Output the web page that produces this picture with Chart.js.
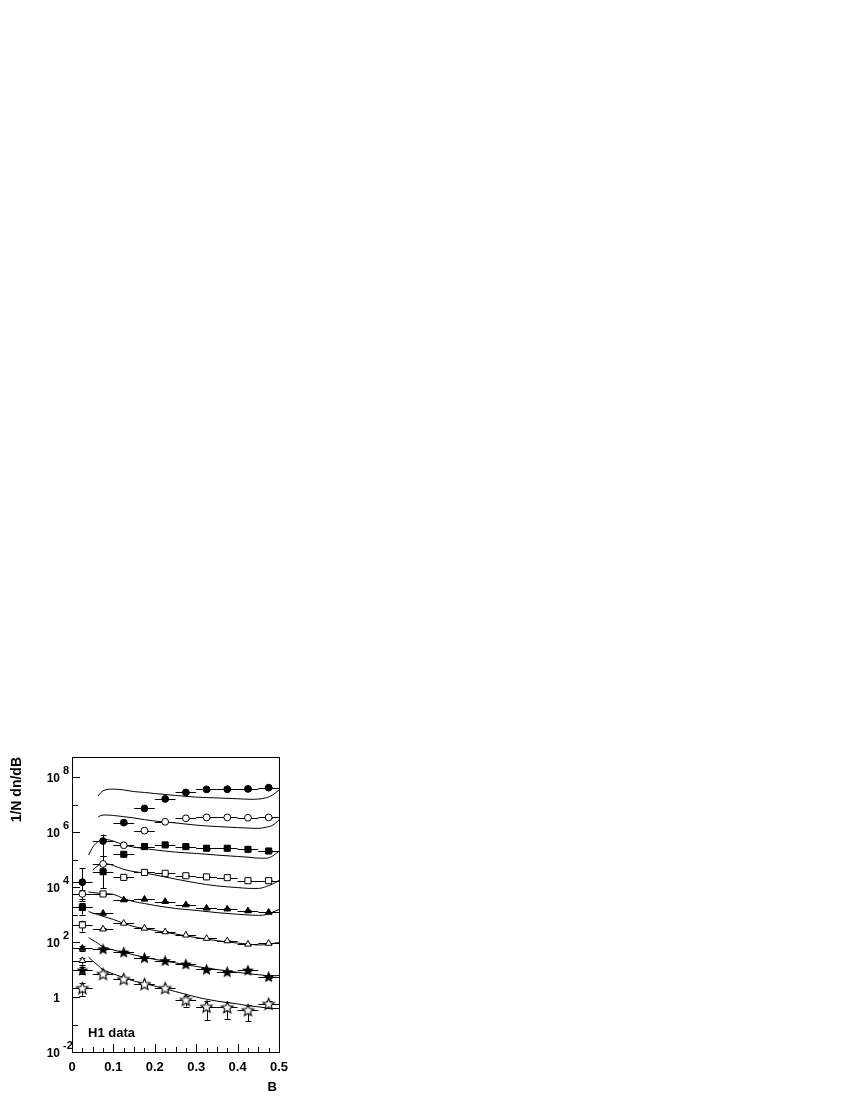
<!DOCTYPE html>
<html>
<head>
<meta charset="utf-8">
<title>H1 data - 1/N dn/dB</title>
<script src="https://cdn.jsdelivr.net/npm/chart.js@4.4.1/dist/chart.umd.min.js"></script>
<style>
  html, body { margin: 0; padding: 0; background: #fff; }
  #chart { display: block; }
</style>
</head>
<body>
<canvas id="chart" width="850" height="1100"></canvas>
<script>
// bin centres (B) of the measured points, bins are 0.05 wide
const binCentres = [0.025, 0.075, 0.125, 0.175, 0.225, 0.275, 0.325, 0.375, 0.425, 0.475];
const binHalfWidth = 0.025;

// 1/N dn/dB, one array per sample (top to bottom), with their errors
const filledCircles = [1.5e4, 4.7e5, 2.2e6, 7.2e6, 1.6e7, 2.75e7, 3.55e7, 3.6e7, 3.7e7, 4.1e7];
const filledCirclesErr = [3.3e4, 3.4e5, 2e5, 5e5, 1e6, 1.5e6, 1.8e6, 1.8e6, 1.9e6, 2.0e6];
const openCircles = [5.6e3, 6.9e4, 3.3e5, 1.12e6, 2.35e6, 3.15e6, 3.4e6, 3.4e6, 3.3e6, 3.4e6];
const openCirclesErr = [2.5e3, 6e4, 2e4, 6e4, 1.2e5, 1.6e5, 1.7e5, 1.7e5, 1.7e5, 1.7e5];
const filledSquares = [1.8e3, 3.6e4, 1.55e5, 2.95e5, 3.4e5, 2.95e5, 2.57e5, 2.57e5, 2.34e5, 2.04e5];
const filledSquaresErr = [8e2, 5e3, 1e4, 1.5e4, 1.7e4, 1.5e4, 1.3e4, 1.3e4, 1.2e4, 1.0e4];
const openSquares = [420, 5.6e3, 2.24e4, 3.4e4, 3.15e4, 2.57e4, 2.34e4, 2.19e4, 1.7e4, 1.7e4];
const openSquaresErr = [180, 6e2, 1.2e3, 1.7e3, 1.6e3, 1.3e3, 1.2e3, 1.1e3, 9e2, 9e2];
const filledTriangles = [59, 1.1e3, 3.4e3, 3.6e3, 2.95e3, 2.24e3, 1.7e3, 1.58e3, 1.35e3, 1.2e3];
const filledTrianglesErr = [10, 60, 170, 180, 150, 110, 90, 80, 70, 60];
const openTriangles = [21, 295, 480, 316, 234, 178, 135, 110, 83, 89];
const openTrianglesErr = [6, 15, 25, 16, 12, 9, 7, 6, 5, 5];
const filledStars = [9.5, 56, 43, 27, 21, 15.8, 10.2, 8.3, 9.5, 5.5];
const filledStarsErr = [2.5, 3, 2.5, 1.5, 1.2, 1, 0.6, 0.5, 0.6, 0.4];
const openStars = [2.1, 6.9, 4.5, 2.95, 2.1, 0.78, 0.44, 0.42, 0.33, 0.56];
const openStarsErr = [1.0, 0.6, 0.4, 0.3, 0.25, 0.33, 0.3, 0.26, 0.2, 0.16];

// model curves, sampled on a common B grid (null = not drawn)
const curveB = [0.04, 0.05, 0.063, 0.07, 0.08, 0.1, 0.125, 0.15, 0.175, 0.2, 0.25, 0.3, 0.35, 0.4, 0.43, 0.45, 0.47, 0.485, 0.5];
const curve1 = [null, null, 2.04e7, 2.75e7, 3.39e7, 3.63e7, 3.39e7, 2.95e7, 2.75e7, 2.51e7, 2.14e7, 1.86e7, 1.74e7, 1.62e7, 1.55e7, 1.58e7, 1.78e7, 2.24e7, 3.39e7];
const curve2 = [null, null, 3.5e6, 4.0e6, 4.17e6, 4.0e6, 3.63e6, 3.24e6, 2.82e6, 2.51e6, 2.14e6, 1.78e6, 1.58e6, 1.45e6, 1.38e6, 1.36e6, 1.51e6, 1.78e6, 2.75e6];
const curve3 = [1.45e5, 2.82e5, 4.47e5, 5.13e5, 5.37e5, 4.68e5, 3.39e5, 2.82e5, 2.51e5, 2.24e5, 1.86e5, 1.66e5, 1.45e5, 1.29e5, 1.2e5, 1.12e5, 1.12e5, 1.35e5, 2.04e5];
const curve4 = [null, 4.17e4, 6.03e4, 6.92e4, 7.08e4, 6.03e4, 4.37e4, 3.63e4, 3.24e4, 2.75e4, 1.95e4, 1.41e4, 1.1e4, 9.55e3, 8.9e3, 8.9e3, 1.05e4, 1.29e4, 1.74e4];
const curve5 = [6.6e3, 6.3e3, 6.0e3, 5.9e3, 5.75e3, 5.4e3, 3.8e3, 2.95e3, 2.51e3, 2.14e3, 1.66e3, 1.41e3, 1.17e3, 1.02e3, 955, 933, 1.0e3, 1.23e3, 1.51e3];
const curve6 = [1.29e3, 1.12e3, 1.0e3, 912, 813, 661, 479, 363, 309, 263, 195, 145, 112, 91, 83, 78, 81, 89, 95];
const curve7 = [145, 117, 89, 74, 63, 51, 42, 34, 27.5, 23.4, 17.4, 12.9, 10, 7.9, 6.9, 6.5, 6.0, 5.9, 6.0];
const curve8 = [28, 20.4, 14.1, 11.2, 9.1, 6.9, 5.1, 3.8, 3.1, 2.5, 1.58, 1.0, 0.71, 0.56, 0.47, 0.44, 0.40, 0.38, 0.38];

// axes
const yMin = 1e-2;
const yMax = 5.35e8;
const yDecades = [-2, -1, 0, 1, 2, 3, 4, 5, 6, 7, 8];
const yLabelled = [-2, 0, 2, 4, 6, 8];
const xTicks = [0, 0.1, 0.2, 0.3, 0.4, 0.5];
const xTickLabels = ["0", "0.1", "0.2", "0.3", "0.4", "0.5"];

const FONT = "'Liberation Sans', Arial, Helvetica, sans-serif";

function makeStar(filled, R) {
    const size = 17;
    const c = document.createElement("canvas");
    c.width = size;
    c.height = size;
    const g = c.getContext("2d");
    const cx = size / 2, cy = size / 2 + 0.5;
    g.beginPath();
    for (let k = 0; k < 10; k++) {
        const rad = k % 2 === 0 ? R : R * 0.45;
        const a = -Math.PI / 2 + (k * Math.PI) / 5;
        g.lineTo(cx + rad * Math.cos(a), cy + rad * Math.sin(a));
    }
    g.closePath();
    g.fillStyle = filled ? "#000" : "#fff";
    g.fill();
    g.lineWidth = 1.1;
    g.strokeStyle = "#000";
    g.stroke();
    return c;
}

function pointSet(values, errors, style, filled, radius) {
    return {
        data: binCentres.map((b, i) => ({ x: b, y: values[i] })),
        errors: errors,
        showLine: false,
        pointStyle: style,
        pointRadius: radius,
        backgroundColor: filled ? "#000" : "#fff",
        borderColor: "#000",
        borderWidth: 1,
        order: 0,
    };
}

function curveSet(values) {
    return {
        data: curveB.map((b, i) => ({ x: b, y: values[i] })),
        showLine: true,
        pointRadius: 0,
        borderColor: "#000",
        borderWidth: 1,
        cubicInterpolationMode: "monotone",
        spanGaps: false,
        order: 1,
    };
}

// error bars, frame, inside ticks and labels
const h1Decor = {
    id: "h1Decor",
    beforeDatasetsDraw(chart) {
        const ctx = chart.ctx;
        const x = chart.scales.x, y = chart.scales.y;
        ctx.save();
        ctx.strokeStyle = "#000";
        ctx.lineWidth = 1;
        chart.data.datasets.forEach((ds) => {
            if (!ds.errors) return;
            ds.data.forEach((p, i) => {
                const err = ds.errors[i];
                const px = Math.round(x.getPixelForValue(p.x)) + 0.5;
                const py = Math.round(y.getPixelForValue(p.y)) + 0.5;
                const x0 = x.getPixelForValue(p.x - binHalfWidth);
                const x1 = x.getPixelForValue(p.x + binHalfWidth);
                const hi = y.getPixelForValue(p.y + err);
                const low = p.y - err > 0 ? p.y - err : p.y / 4;
                const lo = y.getPixelForValue(low);
                ctx.beginPath();
                ctx.moveTo(x0, py);
                ctx.lineTo(x1, py);
                ctx.moveTo(px, hi);
                ctx.lineTo(px, lo);
                ctx.moveTo(px - 3, Math.round(hi) + 0.5);
                ctx.lineTo(px + 3, Math.round(hi) + 0.5);
                ctx.moveTo(px - 3, Math.round(lo) + 0.5);
                ctx.lineTo(px + 3, Math.round(lo) + 0.5);
                ctx.stroke();
            });
        });
        ctx.restore();
    },
    afterDraw(chart) {
        const ctx = chart.ctx;
        const a = chart.chartArea;
        const x = chart.scales.x, y = chart.scales.y;
        ctx.save();
        ctx.strokeStyle = "#000";
        ctx.fillStyle = "#000";
        ctx.lineWidth = 1;
        ctx.strokeRect(a.left + 0.5, a.top + 0.5, a.right - a.left, a.bottom - a.top);

        // y ticks inside the frame
        ctx.beginPath();
        yDecades.forEach((d) => {
            const py = Math.round(y.getPixelForValue(Math.pow(10, d))) + 0.5;
            const len = yLabelled.includes(d) ? 8 : 6;
            ctx.moveTo(a.left, py);
            ctx.lineTo(a.left + len, py);
        });
        // x ticks inside the frame, 4 per 0.1
        for (let k = 0; k <= 20; k++) {
            const v = k * 0.025;
            const px = Math.round(x.getPixelForValue(v)) + 0.5;
            const len = k % 4 === 0 ? 8 : k % 2 === 0 ? 5 : 4;
            ctx.moveTo(px, a.bottom);
            ctx.lineTo(px, a.bottom - len);
        }
        ctx.stroke();

        // y tick labels as 10 with raised exponent
        yLabelled.forEach((d) => {
            const py = y.getPixelForValue(Math.pow(10, d));
            ctx.textBaseline = "alphabetic";
            ctx.font = "bold 12px " + FONT;
            ctx.textAlign = "right";
            if (d === 0) {
                ctx.fillText("1", 60, py + 4.5);
                return;
            }
            ctx.fillText("10", 60, py + 4.5);
            ctx.font = "bold 11px " + FONT;
            ctx.textAlign = "left";
            ctx.fillText(String(d), 63, py - 3.5);
        });

        // x tick labels
        ctx.font = "bold 13px " + FONT;
        ctx.textAlign = "center";
        xTicks.forEach((v, i) => {
            ctx.fillText(xTickLabels[i], x.getPixelForValue(v), 1070.5);
        });

        // axis titles
        ctx.textAlign = "right";
        ctx.fillText("B", 277, 1091);
        ctx.save();
        ctx.translate(20.5, 757);
        ctx.rotate(-Math.PI / 2);
        ctx.font = "bold 14px " + FONT;
        ctx.textAlign = "right";
        ctx.fillText("1/N dn/dB", 0, 0);
        ctx.restore();

        ctx.font = "bold 13px " + FONT;
        ctx.textAlign = "left";
        ctx.fillText("H1 data", 88, 1036.5);
        ctx.restore();
    },
};

const openStar = makeStar(false, 6);
const filledStar = makeStar(true, 4.8);

new Chart(document.getElementById("chart"), {
    type: "scatter",
    data: {
        datasets: [
            pointSet(filledCircles, filledCirclesErr, "circle", true, 3.4),
            pointSet(openCircles, openCirclesErr, "circle", false, 3.4),
            pointSet(filledSquares, filledSquaresErr, "rect", true, 4.3),
            pointSet(openSquares, openSquaresErr, "rect", false, 4.3),
            pointSet(filledTriangles, filledTrianglesErr, "triangle", true, 3.8),
            pointSet(openTriangles, openTrianglesErr, "triangle", false, 3.8),
            pointSet(filledStars, filledStarsErr, filledStar, true, 5),
            pointSet(openStars, openStarsErr, openStar, false, 5),
            curveSet(curve1),
            curveSet(curve2),
            curveSet(curve3),
            curveSet(curve4),
            curveSet(curve5),
            curveSet(curve6),
            curveSet(curve7),
            curveSet(curve8),
        ],
    },
    options: {
        responsive: false,
        animation: false,
        events: [],
        layout: { padding: { left: 72, top: 757, right: 571, bottom: 48 } },
        plugins: { legend: { display: false }, tooltip: { enabled: false } },
        scales: {
            x: { type: "linear", min: 0, max: 0.5, display: false },
            y: { type: "logarithmic", min: yMin, max: yMax, display: false },
        },
    },
    plugins: [h1Decor],
});
</script>
</body>
</html>
